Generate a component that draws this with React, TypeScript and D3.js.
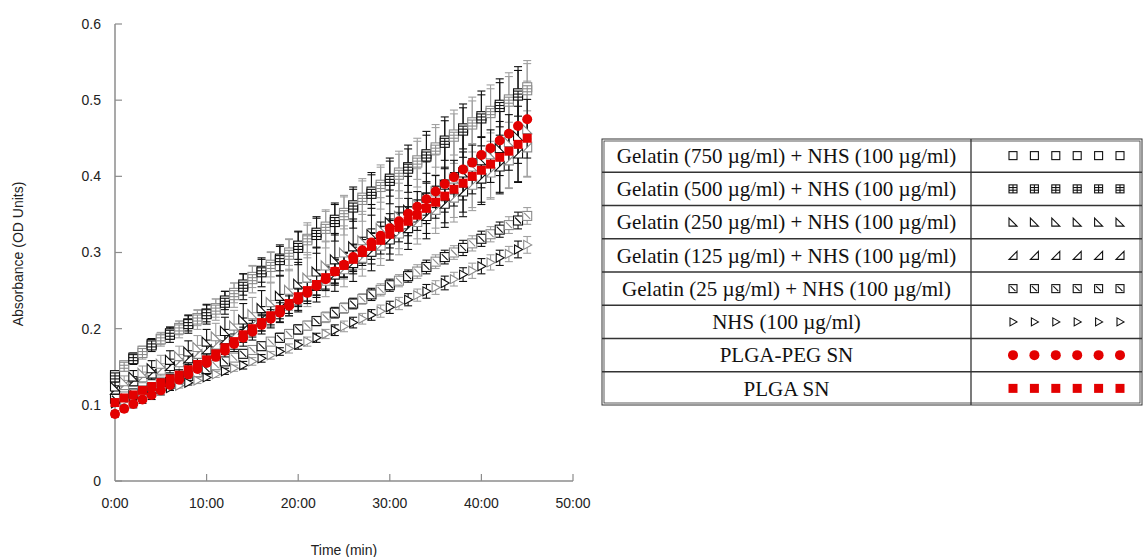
import React from 'react';
import * as d3 from 'd3';

// time points (min)
const timeMin = [
  0, 1, 2, 3, 4, 5, 6, 7, 8, 9, 10, 11, 12, 13, 14, 15, 16, 17, 18, 19, 20, 21, 22, 23,
  24, 25, 26, 27, 28, 29, 30, 31, 32, 33, 34, 35, 36, 37, 38, 39, 40, 41, 42, 43, 44, 45,
];

const xTicks = [0, 10, 20, 30, 40, 50];
const xTickLabels = ['0:00', '10:00', '20:00', '30:00', '40:00', '50:00'];
const yTicks = [0, 0.1, 0.2, 0.3, 0.4, 0.5, 0.6];
const yTickLabels = ['0', '0.1', '0.2', '0.3', '0.4', '0.5', '0.6'];

// mean absorbance per series
const gel750 = [
  0.139, 0.152, 0.162, 0.171, 0.18, 0.187, 0.194, 0.201, 0.207, 0.214, 0.22, 0.227, 0.237, 0.247, 0.258, 0.268,
  0.276, 0.284, 0.292, 0.3, 0.309, 0.318, 0.326, 0.334, 0.343, 0.352, 0.362, 0.372, 0.38, 0.389, 0.397, 0.405,
  0.412, 0.421, 0.429, 0.438, 0.447, 0.455, 0.463, 0.471, 0.479, 0.486, 0.494, 0.501, 0.509, 0.517,
];
const gel500 = [
  0.136, 0.15, 0.16, 0.168, 0.178, 0.186, 0.192, 0.199, 0.206, 0.212, 0.219, 0.225, 0.234, 0.244, 0.255, 0.265,
  0.274, 0.281, 0.29, 0.297, 0.306, 0.316, 0.323, 0.331, 0.34, 0.349, 0.359, 0.369, 0.377, 0.386, 0.394, 0.402,
  0.41, 0.418, 0.426, 0.435, 0.444, 0.452, 0.46, 0.468, 0.476, 0.483, 0.491, 0.498, 0.506, 0.513,
];
const gel250 = [
  0.124, 0.131, 0.137, 0.142, 0.148, 0.154, 0.159, 0.164, 0.17, 0.176, 0.183, 0.19, 0.197, 0.204, 0.212, 0.219,
  0.227, 0.235, 0.243, 0.251, 0.259, 0.267, 0.275, 0.283, 0.291, 0.3, 0.308, 0.316, 0.324, 0.332, 0.34, 0.348,
  0.356, 0.364, 0.372, 0.38, 0.389, 0.397, 0.405, 0.413, 0.421, 0.429, 0.437, 0.445, 0.453, 0.462,
];
const gel125 = [
  0.12, 0.126, 0.131, 0.136, 0.141, 0.146, 0.151, 0.156, 0.161, 0.167, 0.173, 0.179, 0.186, 0.192, 0.199, 0.206,
  0.213, 0.22, 0.227, 0.234, 0.241, 0.249, 0.256, 0.263, 0.271, 0.278, 0.286, 0.293, 0.301, 0.309, 0.317, 0.325,
  0.332, 0.34, 0.348, 0.356, 0.364, 0.372, 0.38, 0.389, 0.397, 0.405, 0.413, 0.421, 0.43, 0.438,
];
const gel25 = [
  0.108, 0.111, 0.115, 0.119, 0.122, 0.126, 0.13, 0.134, 0.138, 0.143, 0.147, 0.152, 0.157, 0.162, 0.167, 0.172,
  0.177, 0.183, 0.188, 0.193, 0.199, 0.204, 0.21, 0.215, 0.221, 0.227, 0.233, 0.239, 0.245, 0.251, 0.257, 0.263,
  0.269, 0.275, 0.281, 0.288, 0.294, 0.3, 0.306, 0.312, 0.318, 0.324, 0.33, 0.336, 0.342, 0.348,
];
const nhs = [
  0.102, 0.105, 0.109, 0.112, 0.115, 0.119, 0.122, 0.125, 0.129, 0.132, 0.136, 0.14, 0.144, 0.148, 0.152, 0.157,
  0.161, 0.165, 0.17, 0.174, 0.179, 0.183, 0.188, 0.193, 0.198, 0.203, 0.208, 0.213, 0.218, 0.223, 0.228, 0.233,
  0.238, 0.244, 0.249, 0.254, 0.26, 0.265, 0.271, 0.276, 0.282, 0.287, 0.293, 0.298, 0.304, 0.31,
];
const plgaPeg = [
  0.088, 0.095, 0.101, 0.107, 0.113, 0.119, 0.126, 0.133, 0.14, 0.147, 0.155, 0.163, 0.171, 0.18, 0.188, 0.196,
  0.205, 0.213, 0.221, 0.23, 0.238, 0.247, 0.256, 0.265, 0.275, 0.284, 0.294, 0.303, 0.313, 0.322, 0.332, 0.341,
  0.351, 0.36, 0.37, 0.38, 0.39, 0.399, 0.409, 0.418, 0.428, 0.437, 0.447, 0.456, 0.466, 0.475,
];
const plga = [
  0.103, 0.109, 0.113, 0.119, 0.124, 0.129, 0.134, 0.139, 0.146, 0.153, 0.159, 0.167, 0.175, 0.183, 0.192, 0.2,
  0.208, 0.217, 0.225, 0.233, 0.242, 0.25, 0.258, 0.267, 0.275, 0.283, 0.291, 0.3, 0.308, 0.316, 0.324, 0.333,
  0.341, 0.349, 0.358, 0.366, 0.374, 0.383, 0.391, 0.4, 0.408, 0.416, 0.425, 0.433, 0.442, 0.45,
];

// standard deviations
const err750 = [
  0.004, 0.005, 0.006, 0.006, 0.007, 0.008, 0.008, 0.009, 0.01, 0.01, 0.011, 0.012, 0.012, 0.013, 0.014, 0.014,
  0.015, 0.016, 0.016, 0.017, 0.018, 0.018, 0.019, 0.02, 0.02, 0.021, 0.021, 0.022, 0.022, 0.023, 0.023, 0.024,
  0.024, 0.025, 0.025, 0.026, 0.026, 0.027, 0.027, 0.028, 0.028, 0.029, 0.029, 0.03, 0.03, 0.031,
];
const err500 = [
  0.005, 0.006, 0.007, 0.008, 0.008, 0.009, 0.01, 0.011, 0.012, 0.013, 0.013, 0.014, 0.015, 0.016, 0.017, 0.018,
  0.019, 0.02, 0.02, 0.021, 0.022, 0.023, 0.024, 0.025, 0.025, 0.026, 0.027, 0.028, 0.028, 0.029, 0.03, 0.031,
  0.031, 0.032, 0.033, 0.033, 0.034, 0.035, 0.035, 0.036, 0.036, 0.037, 0.037, 0.038, 0.038, 0.039,
];
const err250 = [
  0.006, 0.007, 0.008, 0.009, 0.01, 0.011, 0.012, 0.013, 0.014, 0.015, 0.016, 0.017, 0.018, 0.02, 0.021, 0.022,
  0.023, 0.025, 0.026, 0.027, 0.028, 0.03, 0.031, 0.032, 0.034, 0.035, 0.036, 0.038, 0.039, 0.04, 0.042, 0.043,
  0.044, 0.046, 0.047, 0.048, 0.05, 0.051, 0.052, 0.054, 0.055, 0.057, 0.058, 0.06, 0.061, 0.063,
];
const err125 = [
  0.005, 0.006, 0.006, 0.007, 0.008, 0.008, 0.009, 0.01, 0.01, 0.011, 0.012, 0.012, 0.013, 0.014, 0.015, 0.015,
  0.016, 0.017, 0.018, 0.018, 0.019, 0.02, 0.021, 0.021, 0.022, 0.023, 0.024, 0.024, 0.025, 0.026, 0.027, 0.028,
  0.028, 0.029, 0.03, 0.031, 0.031, 0.032, 0.033, 0.034, 0.034, 0.035, 0.036, 0.037, 0.037, 0.038,
];
const err25 = [
  0.002, 0.002, 0.002, 0.003, 0.003, 0.003, 0.003, 0.003, 0.004, 0.004, 0.004, 0.004, 0.004, 0.005, 0.005, 0.005,
  0.005, 0.005, 0.006, 0.006, 0.006, 0.006, 0.006, 0.007, 0.007, 0.007, 0.007, 0.007, 0.008, 0.008, 0.008, 0.008,
  0.008, 0.009, 0.009, 0.009, 0.009, 0.009, 0.01, 0.01, 0.01, 0.01, 0.01, 0.011, 0.011, 0.011,
];
const errNhs = [
  0.002, 0.002, 0.002, 0.002, 0.003, 0.003, 0.003, 0.003, 0.003, 0.004, 0.004, 0.004, 0.004, 0.004, 0.005, 0.005,
  0.005, 0.005, 0.005, 0.006, 0.006, 0.006, 0.006, 0.006, 0.007, 0.007, 0.007, 0.007, 0.007, 0.008, 0.008, 0.008,
  0.008, 0.008, 0.009, 0.009, 0.009, 0.009, 0.009, 0.01, 0.01, 0.01, 0.01, 0.01, 0.011, 0.011,
];
const errPeg = [
  0.004, 0.004, 0.005, 0.005, 0.006, 0.006, 0.007, 0.007, 0.008, 0.008, 0.009, 0.009, 0.01, 0.01, 0.011, 0.011,
  0.012, 0.012, 0.013, 0.013, 0.014, 0.014, 0.015, 0.015, 0.016, 0.016, 0.017, 0.017, 0.018, 0.018, 0.019, 0.019,
  0.02, 0.02, 0.021, 0.021, 0.022, 0.022, 0.023, 0.023, 0.024, 0.024, 0.025, 0.025, 0.026, 0.026,
];
const errPlga = [
  0.003, 0.004, 0.004, 0.005, 0.005, 0.006, 0.006, 0.007, 0.007, 0.008, 0.008, 0.009, 0.009, 0.01, 0.01, 0.011,
  0.011, 0.012, 0.012, 0.013, 0.013, 0.014, 0.014, 0.015, 0.015, 0.016, 0.016, 0.017, 0.017, 0.018, 0.018, 0.019,
  0.019, 0.02, 0.02, 0.021, 0.021, 0.022, 0.022, 0.023, 0.023, 0.024, 0.024, 0.025, 0.025, 0.026,
];

const legendLabels = [
  'Gelatin (750 µg/ml) + NHS (100 µg/ml)',
  'Gelatin (500 µg/ml) + NHS (100 µg/ml)',
  'Gelatin (250 µg/ml) + NHS (100 µg/ml)',
  'Gelatin (125 µg/ml) + NHS (100 µg/ml)',
  'Gelatin (25 µg/ml) + NHS (100 µg/ml)',
  'NHS (100 µg/ml)',
  'PLGA-PEG SN',
  'PLGA SN',
];
const markerKinds = ['square', 'gridSquare', 'triLeft', 'triRight', 'diagSquare', 'play', 'circle', 'filledSquare'];
const seriesValues = [gel750, gel500, gel250, gel125, gel25, nhs, plgaPeg, plga];
const seriesErrors = [err750, err500, err250, err125, err25, errNhs, errPeg, errPlga];
// order the series are painted in
const drawOrder = [4, 5, 3, 2, 0, 1, 7, 6];

const RED = '#e30000';

function Marker({ kind, cx, cy, s, stroke }: { kind: string; cx: number; cy: number; s: number; stroke: string }) {
  const h = s / 2;
  const sw = 1.1;
  if (kind === 'circle') return <circle cx={cx} cy={cy} r={h + 0.5} fill={RED} />;
  if (kind === 'filledSquare') return <rect x={cx - h} y={cy - h} width={s} height={s} fill={RED} />;
  if (kind === 'square')
    return <rect x={cx - h} y={cy - h} width={s} height={s} fill="#fff" stroke={stroke} strokeWidth={sw} />;
  if (kind === 'gridSquare')
    return (
      <g stroke={stroke} strokeWidth={sw} fill="#fff">
        <rect x={cx - h} y={cy - h} width={s} height={s} />
        <line x1={cx} x2={cx} y1={cy - h} y2={cy + h} />
        <line x1={cx - h} x2={cx + h} y1={cy - s / 6} y2={cy - s / 6} />
        <line x1={cx - h} x2={cx + h} y1={cy + s / 6} y2={cy + s / 6} />
      </g>
    );
  if (kind === 'diagSquare')
    return (
      <g stroke={stroke} strokeWidth={sw} fill="#fff">
        <rect x={cx - h} y={cy - h} width={s} height={s} />
        <line x1={cx - h + 1.5} x2={cx + h - 1.5} y1={cy - h + 1.5} y2={cy + h - 1.5} />
      </g>
    );
  let pts = '';
  if (kind === 'triLeft') pts = `${cx - h},${cy - h} ${cx - h},${cy + h} ${cx + h},${cy + h}`;
  if (kind === 'triRight') pts = `${cx + h},${cy - h} ${cx + h},${cy + h} ${cx - h},${cy + h}`;
  if (kind === 'play') pts = `${cx - h + 1},${cy - h} ${cx - h + 1},${cy + h} ${cx + h},${cy}`;
  return <polygon points={pts} fill="#fff" stroke={stroke} strokeWidth={sw} strokeLinejoin="miter" />;
}

export default function App() {
  const W = 1144;
  const H = 557;
  const x = d3.scaleLinear().domain([0, 50]).range([115, 573]);
  const y = d3.scaleLinear().domain([0, 0.6]).range([481, 24]);
  const axisColor = '#8c8c8c';
  const sansFont = 'Arial, "Liberation Sans", sans-serif';
  const serifFont = '"Times New Roman", "Liberation Serif", serif';

  // legend table
  const tblLeft = 602;
  const tblRight = 1142;
  const tblDiv = 971;
  const tblTop = 139;
  const rowH = 33.25;
  const rows = d3.range(legendLabels.length);
  const legendX = d3.scalePoint<number>().domain(d3.range(6)).range([1013, 1120]);

  return (
    <svg width={W} height={H} style={{ position: 'absolute', left: 0, top: 0, background: '#fff' }}>
      {/* axes */}
      <line x1={x(0)} x2={x(0)} y1={y(0)} y2={y(0.6)} stroke={axisColor} strokeWidth={1.5} />
      <line x1={x(0)} x2={x(50)} y1={y(0)} y2={y(0)} stroke={axisColor} strokeWidth={1.5} />
      {yTicks.map((t, i) => (
        <g key={'y' + i}>
          <line x1={x(0)} x2={x(0) + 7} y1={y(t)} y2={y(t)} stroke={axisColor} strokeWidth={1.2} />
          <text x={101} y={y(t)} dy="0.35em" textAnchor="end" fontFamily={sansFont} fontSize={14} fill="#222">
            {yTickLabels[i]}
          </text>
        </g>
      ))}
      {xTicks.map((t, i) => (
        <g key={'x' + i}>
          {i > 0 && <line x1={x(t)} x2={x(t)} y1={y(0)} y2={y(0) - 7} stroke={axisColor} strokeWidth={1.2} />}
          <text x={x(t)} y={503} dy="0.35em" textAnchor="middle" fontFamily={sansFont} fontSize={14} fill="#222">
            {xTickLabels[i]}
          </text>
        </g>
      ))}
      <text x={344} y={550} dy="0.35em" textAnchor="middle" fontFamily={sansFont} fontSize={14} fill="#222">
        Time (min)
      </text>
      <text
        transform={`translate(18,254) rotate(-90)`}
        dy="0.35em"
        textAnchor="middle"
        fontFamily={sansFont}
        fontSize={14}
        fill="#222"
      >
        Absorbance (OD Units)
      </text>

      {/* error bars */}
      {drawOrder.map((si) => (
        <g key={'e' + si} strokeWidth={1.1}>
          {timeMin.map((t, i) => {
            const v = seriesValues[si][i];
            const e = seriesErrors[si][i];
            const c = si >= 6 ? '#111' : i % 2 === 0 ? '#111' : '#a0a0a0';
            const px = x(t);
            return (
              <g key={i} stroke={c}>
                <line x1={px} x2={px} y1={y(v - e)} y2={y(v + e)} />
                <line x1={px - 4} x2={px + 4} y1={y(v - e)} y2={y(v - e)} />
                <line x1={px - 4} x2={px + 4} y1={y(v + e)} y2={y(v + e)} />
              </g>
            );
          })}
        </g>
      ))}

      {/* markers */}
      {drawOrder.map((si) => (
        <g key={'m' + si}>
          {timeMin.map((t, i) => (
            <Marker
              key={i}
              kind={markerKinds[si]}
              cx={x(t)}
              cy={y(seriesValues[si][i])}
              s={9}
              stroke={i % 2 === 0 ? '#111' : '#8a8a8a'}
            />
          ))}
        </g>
      ))}

      {/* legend table */}
      <g fill="none" stroke="#333">
        <rect x={tblLeft} y={tblTop} width={tblRight - tblLeft} height={rowH * rows.length} strokeWidth={1} />
        <rect
          x={tblLeft + 2}
          y={tblTop + 2}
          width={tblRight - tblLeft - 4}
          height={rowH * rows.length - 4}
          strokeWidth={0.8}
        />
        <line x1={tblDiv} x2={tblDiv} y1={tblTop} y2={tblTop + rowH * rows.length} strokeWidth={1.3} />
        {rows.slice(1).map((r) => (
          <line key={r} x1={tblLeft} x2={tblRight} y1={tblTop + r * rowH} y2={tblTop + r * rowH} strokeWidth={1.3} />
        ))}
      </g>
      {rows.map((r) => {
        const cy = tblTop + r * rowH + rowH / 2;
        return (
          <g key={'l' + r}>
            <text
              x={(tblLeft + tblDiv) / 2}
              y={cy}
              dy="0.35em"
              textAnchor="middle"
              fontFamily={serifFont}
              fontSize={21}
              fill="#111"
            >
              {legendLabels[r]}
            </text>
            {d3.range(6).map((k) => (
              <Marker key={k} kind={markerKinds[r]} cx={legendX(k)!} cy={cy} s={r >= 6 ? 9 : 8} stroke="#111" />
            ))}
          </g>
        );
      })}
    </svg>
  );
}
